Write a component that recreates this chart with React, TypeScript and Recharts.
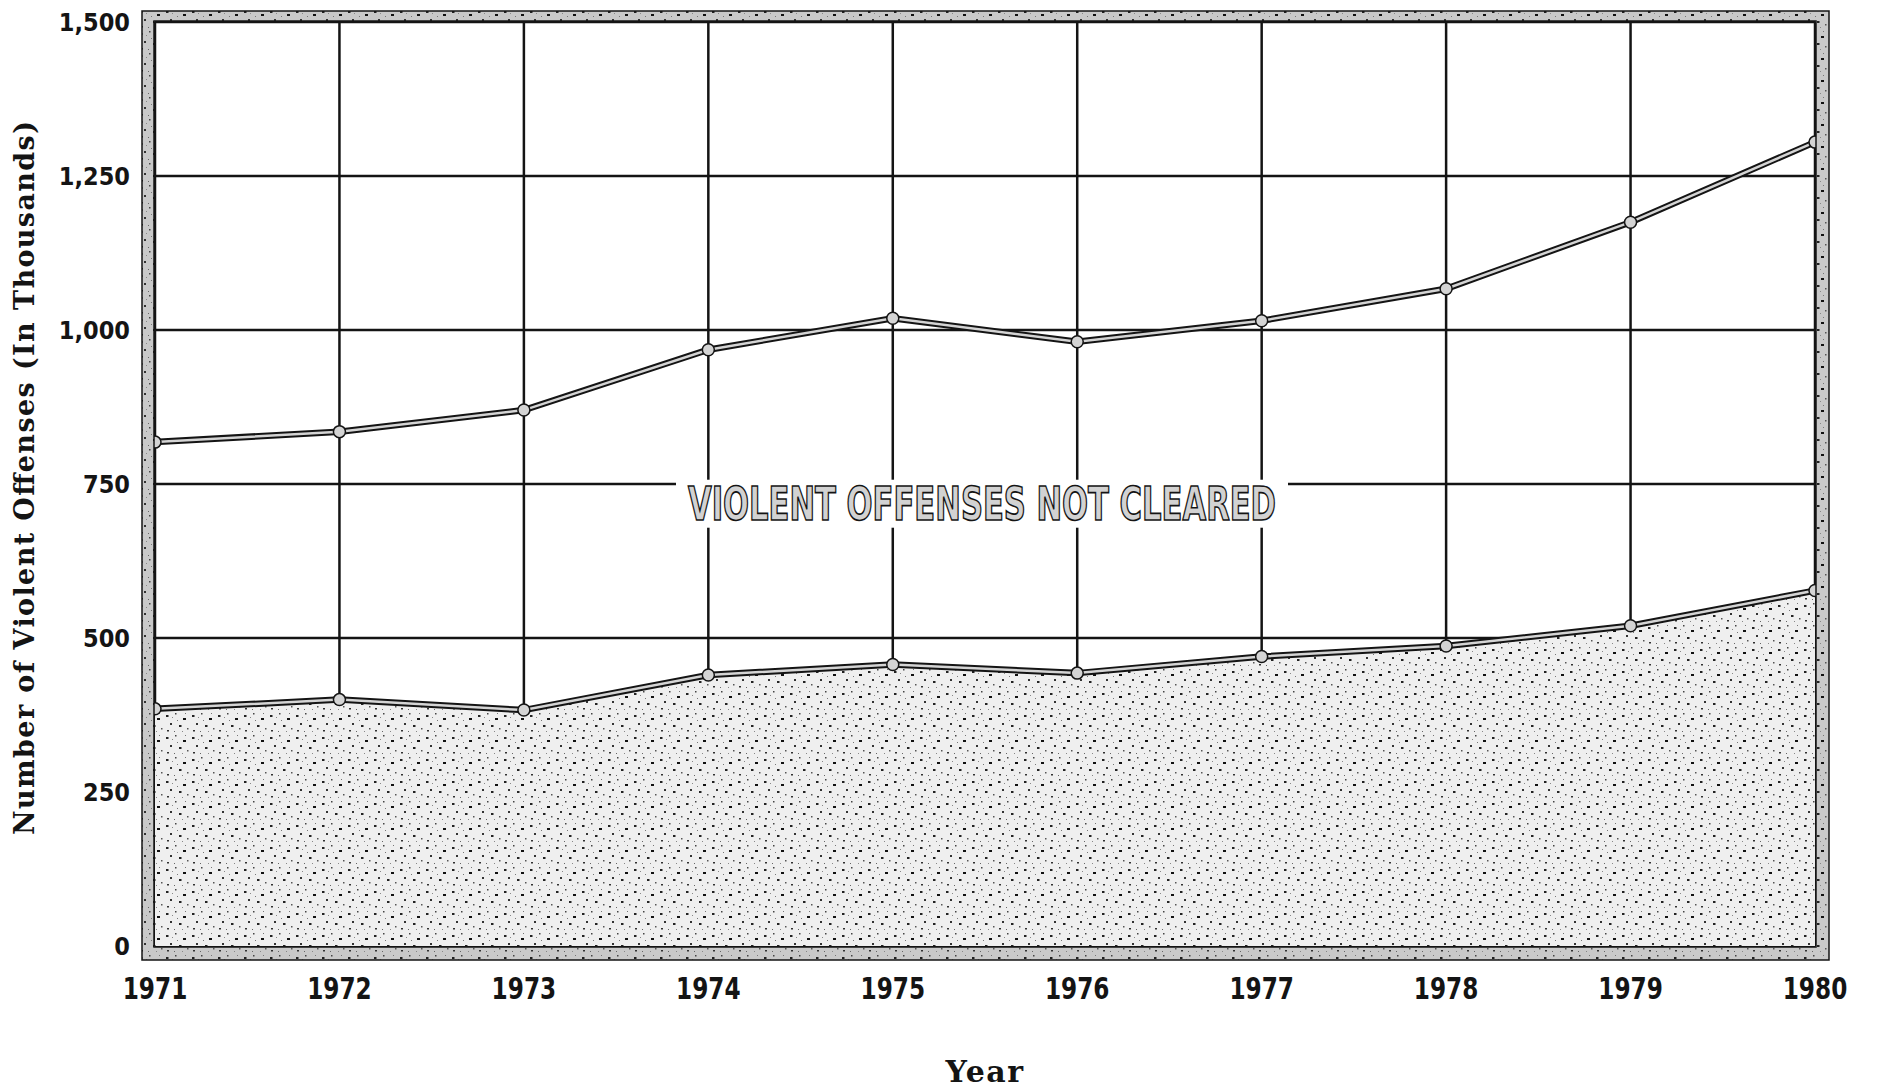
import { ComposedChart, Area, Line, XAxis, YAxis, CartesianGrid, ReferenceLine, Label } from 'recharts';

// offense counts, thousands
const years = [1971, 1972, 1973, 1974, 1975, 1976, 1977, 1978, 1979, 1980];
const totalOffenses = [818, 835, 870, 968, 1019, 981, 1015, 1067, 1175, 1305];
const clearedOffenses = [385, 400, 383, 440, 457, 443, 470, 487, 520, 577];
const yTicks = [0, 250, 500, 750, 1000, 1250, 1500];

const data = years.map((year, i) => ({ year, total: totalOffenses[i], cleared: clearedOffenses[i] }));

const INK = '#141414';
const CONDENSED = "'Liberation Sans Narrow', 'DejaVu Sans Condensed', 'Arial Narrow', sans-serif";
const SERIF = "'DejaVu Serif', 'Liberation Serif', serif";

const W = 1877;
const H = 1080;

const fmt = (v: number) => v.toLocaleString('en-US');

const YearTick = (props: any) => {
  const { x, y, payload } = props;
  return (
    <text
      transform={`translate(${x},${y}) scale(0.86,1)`}
      textAnchor="middle"
      dy="0.72em"
      fill={INK}
      fontSize={30}
      fontWeight={700}
      fontFamily={CONDENSED}
    >
      {payload.value}
    </text>
  );
};

const YTitle = (props: any) => {
  const { viewBox } = props;
  const cx = viewBox.x + 16;
  const cy = viewBox.y + viewBox.height / 2 - 6;
  return (
    <text
      x={cx}
      y={cy}
      transform={`rotate(-90 ${cx} ${cy})`}
      textAnchor="middle"
      dominantBaseline="central"
      fill={INK}
      fontSize={27}
      fontWeight={700}
      fontFamily={SERIF}
      textLength={714}
      lengthAdjust="spacing"
    >
      Number of Violent Offenses (In Thousands)
    </text>
  );
};

const XTitle = (props: any) => {
  const { viewBox } = props;
  return (
    <text
      x={viewBox.x + viewBox.width / 2}
      y={viewBox.y + 136}
      textAnchor="middle"
      fill={INK}
      fontSize={30}
      fontWeight={700}
      fontFamily={SERIF}
      letterSpacing={1.5}
    >
      Year
    </text>
  );
};

const NotClearedLabel = (props: any) => {
  const { viewBox } = props;
  const cx = viewBox.x + viewBox.width / 2 - 3;
  const cy = viewBox.y;
  return (
    <g>
      <rect x={cx - 306} y={cy - 24} width={612} height={48} fill="#fff" />
      <text
        x={cx}
        y={cy + 16.5}
        textAnchor="middle"
        fill="#d2d2d2"
        stroke={INK}
        strokeWidth={1.6}
        fontSize={46}
        fontWeight={700}
        fontFamily={CONDENSED}
        textLength={588}
        lengthAdjust="spacingAndGlyphs"
      >
        VIOLENT OFFENSES NOT CLEARED
      </text>
    </g>
  );
};

const Stipple = ({ id, bg }: { id: string; bg: string }) => (
  <pattern id={id} width="26" height="22" patternUnits="userSpaceOnUse">
    <rect width="26" height="22" fill={bg} />
    <rect x="2" y="3" width="2.5" height="2" fill="#222" />
    <rect x="11" y="1" width="1.5" height="1.5" fill="#444" />
    <rect x="19" y="6" width="3" height="2" fill="#111" />
    <rect x="6" y="11" width="2" height="2" fill="#333" />
    <rect x="15" y="13" width="2.5" height="2" fill="#222" />
    <rect x="23" y="16" width="1.5" height="1.5" fill="#555" />
    <rect x="3" y="18" width="2" height="1.5" fill="#333" />
    <rect x="10" y="19" width="1" height="1" fill="#666" />
    <rect x="21" y="1" width="1" height="1" fill="#777" />
    <rect x="13" y="8" width="1" height="1" fill="#777" />
    <rect x="8" y="5" width="1" height="1" fill="#888" />
    <rect x="18" y="19" width="1" height="1" fill="#888" />
  </pattern>
);

export default function App() {
  return (
    <div style={{ position: 'relative', width: W, height: H }}>
      <ComposedChart width={W} height={H} data={data} margin={{ top: 14, right: 0, bottom: 0, left: 0 }}>
        <defs>
          <Stipple id="areaStipple" bg="#efefef" />
        </defs>
        <CartesianGrid stroke={INK} strokeWidth={2.5} yAxisId="left" />
        <XAxis
          dataKey="year"
          type="number"
          domain={[1971, 1980]}
          ticks={years}
          interval={0}
          height={142}
          axisLine={false}
          tickLine={false}
          tickSize={0}
          tickMargin={31}
          tick={<YearTick />}
        >
          <Label content={<XTitle />} />
        </XAxis>
        <YAxis
          yAxisId="left"
          domain={[0, 1500]}
          ticks={yTicks}
          width={147}
          axisLine={false}
          tickLine={false}
          tickSize={0}
          tickMargin={25}
          tickFormatter={fmt}
          tick={{ fill: INK, fontSize: 25, fontWeight: 700, fontFamily: CONDENSED }}
        >
          <Label content={<YTitle />} />
        </YAxis>
        <YAxis
          yAxisId="right"
          orientation="right"
          domain={[0, 1500]}
          ticks={yTicks}
          width={70}
          axisLine={false}
          tickLine={false}
          tickSize={0}
          tickMargin={18}
          tickFormatter={fmt}
          tick={{ fill: INK, fontSize: 25, fontWeight: 700, fontFamily: CONDENSED }}
        />
        <Area
          yAxisId="left"
          dataKey="cleared"
          type="linear"
          fill="url(#areaStipple)"
          fillOpacity={1}
          stroke="none"
          isAnimationActive={false}
        />
        <ReferenceLine yAxisId="left" y={718} strokeOpacity={0} label={<NotClearedLabel />} />
        <Line yAxisId="left" dataKey="cleared" type="linear" stroke={INK} strokeWidth={6.5} dot={false} activeDot={false} isAnimationActive={false} />
        <Line
          yAxisId="left"
          dataKey="cleared"
          type="linear"
          stroke="#d4d4d4"
          strokeWidth={2.5}
          dot={{ r: 6, fill: '#d4d4d4', stroke: INK, strokeWidth: 1.5 }}
          activeDot={false}
          isAnimationActive={false}
        />
        <Line yAxisId="left" dataKey="total" type="linear" stroke={INK} strokeWidth={6.5} dot={false} activeDot={false} isAnimationActive={false} />
        <Line
          yAxisId="left"
          dataKey="total"
          type="linear"
          stroke="#d4d4d4"
          strokeWidth={2.5}
          dot={{ r: 6, fill: '#d4d4d4', stroke: INK, strokeWidth: 1.5 }}
          activeDot={false}
          isAnimationActive={false}
        />
      </ComposedChart>
      <svg width={W} height={H} style={{ position: 'absolute', left: 0, top: 0, pointerEvents: 'none' }}>
        <defs>
          <Stipple id="frameStipple" bg="#c9c9c9" />
        </defs>
        <path
          d="M134,3 H1821 V952 H134 Z M146,13 V939 H1808 V13 Z"
          fill="url(#frameStipple)"
          fillRule="evenodd"
          stroke={INK}
          strokeWidth={1.5}
        />
      </svg>
    </div>
  );
}
